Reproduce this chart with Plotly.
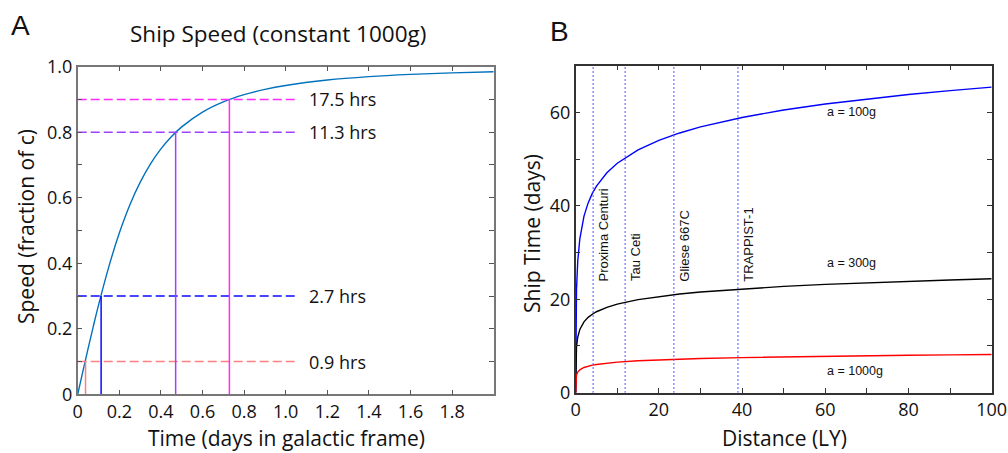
import plotly.graph_objects as go

# ---------------- Panel A data ----------------
time_days = [0, 0.025, 0.05, 0.075, 0.1, 0.15, 0.2, 0.25, 0.3, 0.35, 0.4, 0.45, 0.5,
             0.6, 0.7, 0.8, 0.9, 1.0, 1.2, 1.4, 1.6, 1.8, 2.0]
speed_frac_c = [0, 0.0705, 0.1399, 0.2074, 0.2720, 0.3903, 0.4921, 0.5771, 0.6467,
                0.7033, 0.7490, 0.7861, 0.8163, 0.8614, 0.8925, 0.9146, 0.9307,
                0.9427, 0.9592, 0.9695, 0.9764, 0.9812, 0.9847]
marker_hours = [0.9, 2.7, 11.3, 17.5]
marker_speeds = [0.1, 0.3, 0.8, 0.9]
marker_labels = ["0.9 hrs", "2.7 hrs", "11.3 hrs", "17.5 hrs"]
marker_colors = ["#FF7F7F", "#0A0AFF", "#A040FF", "#FF2BFF"]

# ---------------- Panel B data ----------------
distance_ly = [0, 0.01, 0.02, 0.05, 0.1, 0.2, 0.5, 1, 2, 3, 4, 5, 7.5, 10, 15, 20, 25,
               30, 40, 50, 60, 70, 80, 90, 100]
ship_days_100g = [0, 6.91, 9.45, 13.79, 17.73, 22.07, 28.18, 32.95, 37.79, 40.63, 42.66,
                  44.23, 47.09, 49.12, 51.99, 54.02, 55.60, 56.89, 58.92, 60.50, 61.79,
                  62.88, 63.82, 64.66, 65.40]
ship_days_300g = [0, 3.75, 4.93, 6.74, 8.24, 9.81, 11.92, 13.54, 15.17, 16.13, 16.80,
                  17.33, 18.28, 18.96, 19.92, 20.60, 21.12, 21.55, 22.23, 22.76, 23.19,
                  23.55, 23.87, 24.14, 24.39]
ship_days_1000g = [0, 1.77, 2.21, 2.82, 3.29, 3.78, 4.42, 4.91, 5.40, 5.69, 5.89, 6.05,
                   6.34, 6.54, 6.83, 7.03, 7.19, 7.32, 7.52, 7.68, 7.81, 7.92, 8.01,
                   8.10, 8.17]
curve_labels = ["a = 100g", "a = 300g", "a = 1000g"]
curve_label_y = [60.0, 27.7, 4.6]
star_names = ["Proxima Centuri", "Tau Ceti", "Gliese 667C", "TRAPPIST-1"]
star_distances = [4.2, 11.9, 23.6, 39.0]

FONT = "Open Sans"
fig = go.Figure()

# Panel A curve
fig.add_trace(go.Scatter(x=time_days, y=speed_frac_c, mode="lines", line_shape="spline",
                         line=dict(color="#0072BD", width=1.4), xaxis="x", yaxis="y",
                         showlegend=False, hoverinfo="skip"))
for h, v, lab, col in zip(marker_hours, marker_speeds, marker_labels, marker_colors):
    t = h / 24.0
    fig.add_trace(go.Scatter(x=[0, 1.05], y=[v, v], mode="lines",
                             line=dict(color=col, width=1.5, dash="9px,4px"),
                             xaxis="x", yaxis="y", showlegend=False, hoverinfo="skip"))
    fig.add_trace(go.Scatter(x=[t, t], y=[0, v], mode="lines",
                             line=dict(color=col, width=1.5),
                             xaxis="x", yaxis="y", showlegend=False, hoverinfo="skip"))
    fig.add_annotation(x=1.1, y=v, xref="x", yref="y", text=lab, showarrow=False,
                       xanchor="left", yanchor="middle",
                       font=dict(family=FONT, size=18, color="#111"))

# Panel B
for ys, col in zip([ship_days_100g, ship_days_300g, ship_days_1000g],
                   ["#0000FF", "#000000", "#FF0000"]):
    fig.add_trace(go.Scatter(x=distance_ly, y=ys, mode="lines",
                             line=dict(color=col, width=1.4),
                             xaxis="x2", yaxis="y2", showlegend=False, hoverinfo="skip"))
for d, name in zip(star_distances, star_names):
    fig.add_trace(go.Scatter(x=[d, d], y=[0, 70], mode="lines",
                             line=dict(color="#5C5CFF", width=1.4, dash="1.5px,2.5px"),
                             xaxis="x2", yaxis="y2", showlegend=False, hoverinfo="skip"))
    fig.add_annotation(x=d, y=23.4, xref="x2", yref="y2", text=name, showarrow=False,
                       textangle=-90, xanchor="left", yanchor="bottom", xshift=1,
                       font=dict(family="Liberation Sans", size=13, color="#111"))
for lab, y in zip(curve_labels, curve_label_y):
    fig.add_annotation(x=60, y=y, xref="x2", yref="y2", text=lab, showarrow=False,
                       xanchor="left", yanchor="middle",
                       font=dict(family="Liberation Sans", size=12.5, color="#111"))

tickfont = dict(family=FONT, size=18, color="#111")
axA = dict(showgrid=False, zeroline=False, showline=True, mirror="ticks",
           linecolor="#777777", linewidth=1.5, ticks="inside", ticklen=5,
           tickcolor="#555555", tickfont=tickfont, automargin=False)
axB = dict(axA, linecolor="#333333", tickcolor="#333333")

ya_vals = [i / 10 for i in range(11)]
ya_text = ["0", "", "0.2", "", "0.4", "", "0.6", "", "0.8", "", "1.0"]
xa_vals = [i / 5 for i in range(10)]
xa_text = ["0", "0.2", "0.4", "0.6", "0.8", "1.0", "1.2", "1.4", "1.6", "1.8"]
xb_vals = list(range(0, 101, 10))
xb_text = [str(v) if v % 20 == 0 else "" for v in xb_vals]
yb_vals = list(range(0, 71, 10))
yb_text = [str(v) if v % 20 == 0 else "" for v in yb_vals]

fig.update_layout(
    template="none",
    width=1008, height=453, margin=dict(l=0, r=0, t=0, b=0, pad=0, autoexpand=False),
    paper_bgcolor="white", plot_bgcolor="white", showlegend=False,
    xaxis=dict(axA, domain=[0.0771, 0.4898], range=[0, 2], tickvals=xa_vals,
               ticktext=xa_text, anchor="y"),
    yaxis=dict(axA, domain=[0.1296, 0.8528], range=[0, 1], tickvals=ya_vals,
               ticktext=ya_text, anchor="x"),
    xaxis2=dict(axB, domain=[0.5711, 0.9838], range=[0, 100], tickvals=xb_vals,
                ticktext=xb_text, anchor="y2"),
    yaxis2=dict(axB, domain=[0.1331, 0.8550], range=[0, 70], tickvals=yb_vals,
                ticktext=yb_text, anchor="x2"),
)

paper_texts = [
    ("A", 20, 26, 28, 0, "Liberation Sans"),
    ("B", 559, 31, 28, 0, "Liberation Sans"),
    ("Ship Speed (constant 1000g)", 278, 33, 22.5, 0, FONT),
    ("Time (days in galactic frame)", 286, 438, 21, 0, FONT),
    ("Distance (LY)", 784, 438, 21, 0, FONT),
    ("Speed (fraction of c)", 26, 227, 21, -90, FONT),
    ("Ship Time (days)", 532, 234, 21, -90, FONT),
]
for txt, px, py, sz, ang, fam in paper_texts:
    fig.add_annotation(x=px / 1008, y=1 - py / 453, xref="paper", yref="paper", text=txt,
                       showarrow=False, xanchor="center", yanchor="middle", textangle=ang,
                       font=dict(family=fam, size=sz, color="#111"))

fig.write_html("out.html", config={"displayModeBar": False},
               post_script="document.body.style.margin='0';document.body.style.overflow='hidden';")
